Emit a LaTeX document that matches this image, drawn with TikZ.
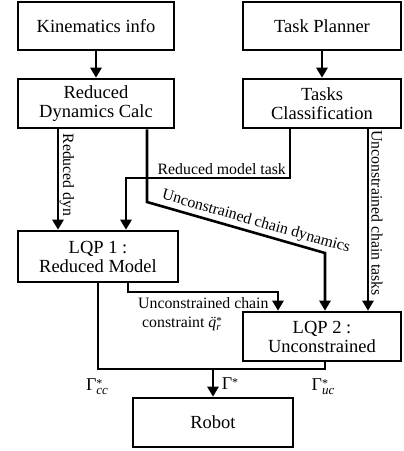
\documentclass[tikz,border=0pt]{standalone}
\usepackage{fontspec}
\setmainfont{Liberation Serif}
\usetikzlibrary{arrows.meta,calc}
\newcommand{\gstar}{\raisebox{3.5pt}{\fontsize{12}{12}\selectfont *}}
\newcommand{\gsub}[1]{\Γ\makebox[0pt][l]{\gstar}\raisebox{-4pt}{\fontsize{13}{13}\selectfont\itshape #1}}
\newcommand{\Γ}{Γ}
\newcommand{\qdd}{\ooalign{\itshape q\cr\hidewidth\itshape\char"00A8\hidewidth\cr}\makebox[0pt][l]{\raisebox{2.5pt}{\fontsize{11}{11}\selectfont *}}\raisebox{-3.5pt}{\fontsize{11}{11}\selectfont\itshape r}}
\begin{document}
\begin{tikzpicture}[x=1pt,y=-1pt,
  box/.style={draw, line width=2.6pt, inner sep=0pt, align=center, font=\fontsize{18.5}{19}\selectfont},
  lbl/.style={font=\fontsize{15.8}{19}\selectfont, inner sep=0pt},
  glbl/.style={font=\fontsize{18}{20}\selectfont, inner sep=0pt},
  wire/.style={line width=2.6pt},
  arr/.style={wire, -{Triangle[length=10pt,width=11pt]}}]
\useasboundingbox (0,0) rectangle (404,451);
% boxes
\node[box, minimum width=156pt, minimum height=48pt] (kin) at (96,26) {Kinematics info};
\node[box, minimum width=158pt, minimum height=48pt] (tp) at (322,26) {Task Planner};
\node[box, minimum width=156pt, minimum height=49pt] (rdc) at (96,103.5) {Reduced\\Dynamics Calc};
\node[box, minimum width=158pt, minimum height=49pt] (tc) at (322,103.5) {Tasks\\Classification};
\node[box, minimum width=160pt, minimum height=51pt] (lqp1) at (98,256.5) {LQP 1 :\\Reduced Model};
\node[box, minimum width=158pt, minimum height=49pt] (lqp2) at (322,336.5) {LQP 2 :\\Unconstrained};
\node[box, minimum width=160pt, minimum height=49pt] (robot) at (213,422.5) {Robot};
% helper coordinates
\coordinate (rd) at (58,0);
\coordinate (d1) at (147,202);
\coordinate (d2) at (325,253);
\coordinate (t1) at (290,178);
\coordinate (t2) at (126,178);
\coordinate (u1) at (368,0);
\coordinate (c1) at (128,292);
\coordinate (c2) at (278,292);
\coordinate (m1) at (98,369);
\coordinate (m2) at (325,369);
\coordinate (m) at (213,369);
% connectors
\draw[arr] (kin) -- (rdc);
\draw[arr] (tp) -- (tc);
\draw[arr] (rdc.south -| rd) -- (lqp1.north -| rd);
\draw[arr] (rdc.south -| d1) -- (d1) -- (d2) -- (lqp2.north -| d2);
\draw[arr] (tc.south -| t1) -- (t1) -- (t2) -- (lqp1.north -| t2);
\draw[arr] (tc.south -| u1) -- (lqp2.north -| u1);
\draw[arr] (lqp1.south -| c1) -- (c1) -- (c2) -- (lqp2.north -| c2);
\draw[wire] (lqp1.south -| m1) -- (m1) -- (m2) -- (lqp2.south -| m2);
\draw[arr] (m) -- (robot.north);
% labels
\node[lbl, rotate=-90] (lrd) at (67,175) {Reduced dyn};
\node[lbl, rotate=-90] (luct) at (377,213) {Unconstrained chain tasks};
\node[lbl, anchor=south east] (lrmt) at (286,175) {Reduced model task};
\node[lbl, rotate=-16] (lucd) at (256,222) {Unconstrained chain dynamics};
\node[lbl, anchor=north west, align=left] (lucc) at (138,297) {Unconstrained chain\\\hspace{4pt}constraint \qdd};
\node[glbl] (gcc) at (97,387) {\gsub{cc}};
\node[glbl] (gs) at (230,384) {Γ\gstar};
\node[glbl] (guc) at (323,387) {\gsub{uc}};
\end{tikzpicture}
\end{document}
